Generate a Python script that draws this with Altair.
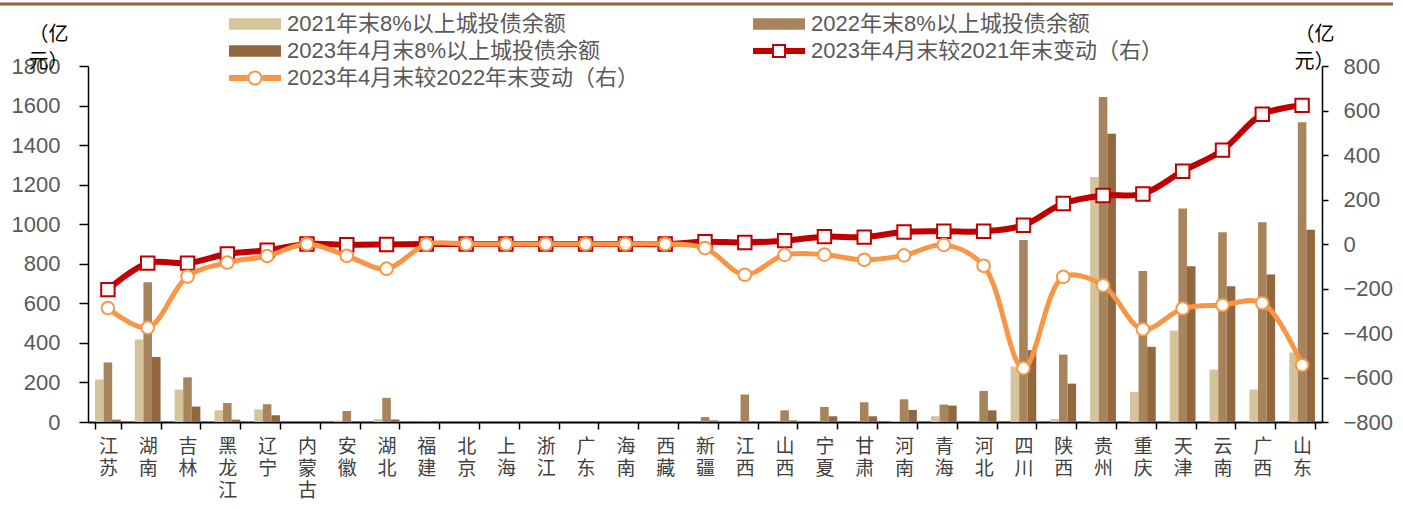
import altair as alt
import pandas as pd

provinces = ["江苏", "湖南", "吉林", "黑龙江", "辽宁", "内蒙古", "安徽", "湖北", "福建", "北京",
             "上海", "浙江", "广东", "海南", "西藏", "新疆", "江西", "山西", "宁夏", "甘肃",
             "河南", "青海", "河北", "四川", "陕西", "贵州", "重庆", "天津", "云南", "广西", "山东"]

debt_2021 = [215, 417, 164, 59, 64, 0, 8, 15, 0, 0, 0, 0, 0, 0, 0, 0, 0, 0, 0, 0,
             5, 29, 0, 280, 15, 1239, 152, 461, 265, 164, 351]
debt_2022 = [301, 706, 226, 96, 90, 0, 56, 122, 3, 0, 0, 0, 0, 0, 0, 25, 139, 59, 76, 100,
             115, 88, 157, 920, 341, 1643, 763, 1079, 959, 1010, 1516]
debt_2023apr = [12, 329, 78, 12, 34, 0, 2, 13, 1, 0, 0, 0, 0, 0, 0, 8, 1, 8, 29, 29,
                61, 83, 59, 363, 194, 1457, 380, 787, 686, 746, 972]
chg_vs_2021 = [-205, -86, -86, -45, -28, 0, -3, -2, 0, 0, 0, 0, 0, 0, 0, 10, 7, 15, 33, 31,
               54, 57, 57, 84, 182, 218, 225, 327, 422, 583, 623]
chg_vs_2022 = [-288, -376, -146, -83, -54, 0, -53, -111, -2, 0, 0, 0, 0, 0, 0, -18, -138, -49, -48, -71,
               -51, -4, -98, -558, -148, -186, -383, -290, -274, -265, -544]

S1 = "2021年末8%以上城投债余额"
S2 = "2022年末8%以上城投债余额"
S3 = "2023年4月末8%以上城投债余额"
S4 = "2023年4月末较2021年末变动（右）"
S5 = "2023年4月末较2022年末变动（右）"
series_order = [S1, S2, S3, S4, S5]
colors = ["#D5C39A", "#A8845C", "#94683E", "#C00000", "#F79646"]

bar_rows = []
for s, vals in [(S1, debt_2021), (S2, debt_2022), (S3, debt_2023apr)]:
    for p, v in zip(provinces, vals):
        bar_rows.append({"province": p, "series": s, "value": v})
bar_df = pd.DataFrame(bar_rows)
red_df = pd.DataFrame({"province": provinces, "series": S4, "value": chg_vs_2021})
orange_df = pd.DataFrame({"province": provinces, "series": S5, "value": chg_vs_2022})

CJK = "Noto Sans CJK SC"
NUM = "Liberation Sans, Noto Sans CJK SC"

P_BAR = "M-2.6,-0.58H2.6V0.58H-2.6Z"
P_RED = ("M-2.6,-0.3H-0.7V0.3H-2.6Z M0.7,-0.3H2.6V0.3H0.7Z "
         "M-0.7,-0.7H0.7V0.7H-0.7Z M-0.5,-0.5V0.5H0.5V-0.5Z")
P_OR = ("M-2.6,-0.3H-0.75V0.3H-2.6Z M0.75,-0.3H2.6V0.3H0.75Z "
        "M0.75,0A0.75,0.75 0 1,1 -0.75,0A0.75,0.75 0 1,1 0.75,0Z "
        "M0.55,0A0.55,0.55 0 1,0 -0.55,0A0.55,0.55 0 1,0 0.55,0Z")

shape_expr = f"datum.value === '{S4}' ? '{P_RED}' : datum.value === '{S5}' ? '{P_OR}' : '{P_BAR}'"
fill_expr = (f"datum.value === '{S1}' ? '{colors[0]}' : datum.value === '{S2}' ? '{colors[1]}' : "
             f"datum.value === '{S3}' ? '{colors[2]}' : datum.value === '{S4}' ? '{colors[3]}' : '{colors[4]}'")

legend = alt.Legend(
    title=None, orient="none", legendX=156, legendY=-53, columns=2, direction="horizontal",
    columnPadding=113, rowPadding=5, symbolSize=400, labelOffset=21,
    labelFontSize=22, labelFont=NUM, labelColor="#595959", labelLimit=600,
    padding=0, symbolStrokeWidth=0, symbolOpacity=1,
    symbolType=alt.ExprRef(expr=shape_expr),
    symbolFillColor=alt.ExprRef(expr=fill_expr),
)
color_enc = alt.Color("series:N", scale=alt.Scale(domain=series_order, range=colors), legend=legend)

x_enc = alt.X(
    "province:N", sort=provinces, title=None,
    scale=alt.Scale(paddingInner=0.354, paddingOuter=0.177),
    axis=alt.Axis(
        labelExpr="split(datum.label, '')", labelAngle=0, labelFont=CJK, labelFontSize=19,
        labelColor="#404040", labelLineHeight=22, labelPadding=8, labelBaseline="top",
        tickBand="extent", tickSize=7, tickColor="black", tickWidth=1.5,
        domainColor="black", domainWidth=2, grid=False,
    ),
)

left_axis = alt.Axis(
    orient="left", values=list(range(0, 1801, 200)), format="d", tickSize=9, labelPadding=19,
    labelFontSize=22, labelColor="#595959", labelFont="Liberation Sans",
    domainColor="black", domainWidth=1.5, tickColor="black", tickWidth=1.5, grid=False,
    title=["（亿", "元）"], titleAngle=0, titleX=-40, titleY=-42, titleAlign="center",
    titleBaseline="top", titleFontSize=20, titleFontWeight="normal", titleColor="black",
    titleFont=CJK, titleLineHeight=27,
)
right_axis = alt.Axis(
    orient="right", values=list(range(-800, 801, 200)), format="d", tickSize=6, labelPadding=15,
    labelFontSize=22, labelColor="#595959", labelFont="Liberation Sans",
    domainColor="black", domainWidth=1.5, tickColor="black", tickWidth=1.5, grid=False,
    title=["（亿", "元）"], titleAngle=0, titleX=-8, titleY=-42, titleAlign="center",
    titleBaseline="top", titleFontSize=20, titleFontWeight="normal", titleColor="black",
    titleFont=CJK, titleLineHeight=27,
)

bars = alt.Chart(bar_df).mark_bar().encode(
    x=x_enc,
    xOffset=alt.XOffset("series:N", sort=[S1, S2, S3], scale=alt.Scale(paddingInner=0, paddingOuter=0)),
    y=alt.Y("value:Q", scale=alt.Scale(domain=[0, 1800], nice=False), axis=left_axis),
    color=color_enc,
)

y_right = alt.Y("value:Q", scale=alt.Scale(domain=[-800, 800], nice=False), axis=right_axis)

red_line = alt.Chart(red_df).mark_line(strokeWidth=6, interpolate="catmull-rom").encode(
    x=x_enc, y=y_right, color=color_enc)
red_pts = alt.Chart(red_df).mark_point(shape="square", size=180, filled=False, fill="white",
                                       strokeWidth=2, opacity=1).encode(
    x=x_enc, y=y_right, color=color_enc)
orange_line = alt.Chart(orange_df).mark_line(strokeWidth=5, interpolate="catmull-rom").encode(
    x=x_enc, y=y_right, color=color_enc)
orange_pts = alt.Chart(orange_df).mark_point(shape="circle", size=160, filled=False, fill="white",
                                             strokeWidth=2, opacity=1).encode(
    x=x_enc, y=y_right, color=color_enc)

lines = alt.layer(red_line, red_pts, orange_line, orange_pts)

top_rule = alt.Chart(pd.DataFrame({"a": [0]})).mark_rule(color="#94633B", strokeWidth=3).encode(
    x=alt.value(-88), x2=alt.value(1305), y=alt.value(-62))

chart = alt.layer(bars, lines, top_rule).resolve_scale(y="independent").properties(
    width=1234, height=356,
    autosize=alt.AutoSizeParams(type="none"),
    padding={"left": 88, "top": 66, "right": 81, "bottom": 87},
).configure_view(stroke=None)

chart.save("out.html", embed_options={"renderer": "svg", "actions": False})
